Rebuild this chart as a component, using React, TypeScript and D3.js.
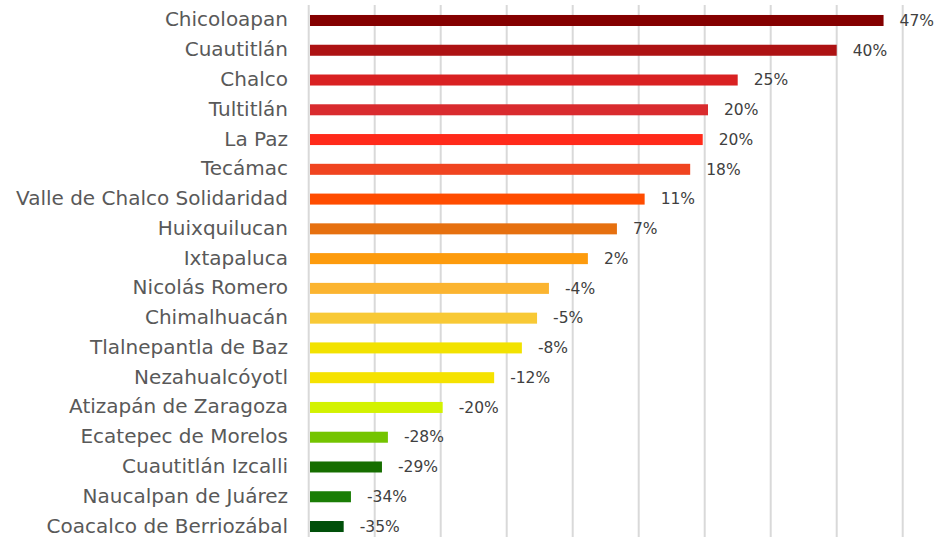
import { useEffect, useRef } from "react"
import * as d3 from "d3"

const municipios = [
  "Chicoloapan",
  "Cuautitlán",
  "Chalco",
  "Tultitlán",
  "La Paz",
  "Tecámac",
  "Valle de Chalco Solidaridad",
  "Huixquilucan",
  "Ixtapaluca",
  "Nicolás Romero",
  "Chimalhuacán",
  "Tlalnepantla de Baz",
  "Nezahualcóyotl",
  "Atizapán de Zaragoza",
  "Ecatepec de Morelos",
  "Cuautitlán Izcalli",
  "Naucalpan de Juárez",
  "Coacalco de Berriozábal",
]

const variacion = [
  47.1, 40.0, 25.0, 20.5, 19.7, 17.8, 10.9, 6.7, 2.3,
  -3.6, -5.4, -7.7, -11.9, -19.7, -28.0, -28.9, -33.6, -34.7,
]

const etiquetas = [
  "47%", "40%", "25%", "20%", "20%", "18%", "11%", "7%", "2%",
  "-4%", "-5%", "-8%", "-12%", "-20%", "-28%", "-29%", "-34%", "-35%",
]

const colores = [
  "#840000", "#ad1213", "#d92122", "#d92b2e", "#ff2a1a", "#f04420",
  "#ff4c00", "#e6700f", "#fd9b0d", "#fbb430", "#f8c935", "#f2e200",
  "#f5e200", "#d3f200", "#74c400", "#166e00", "#1a7d05", "#004f0a",
]

const gridTicks = [-40, -30, -20, -10, 0, 10, 20, 30, 40, 50]

export default function App() {
  const svgRef = useRef<SVGSVGElement>(null)

  useEffect(() => {
    const svg = d3.select(svgRef.current)
    svg.selectAll("*").remove()

    const height = 537

    const x = d3.scaleLinear().domain([-40, 50]).range([308.7, 902.7])
    const y = d3.scaleBand<string>()
      .domain(municipios)
      .range([5.6, 541.4])
      .paddingInner(0.63)
      .paddingOuter(0.315)

    // gridlines
    svg.append("g")
      .selectAll("line")
      .data(gridTicks)
      .join("line")
      .attr("x1", d => x(d))
      .attr("x2", d => x(d))
      .attr("y1", 5)
      .attr("y2", height)
      .attr("stroke", "#d9d9d9")
      .attr("stroke-width", 2)

    const rows = municipios.map((m, i) => ({
      name: m, value: variacion[i], label: etiquetas[i], color: colores[i],
    }))

    svg.append("g")
      .selectAll("rect")
      .data(rows)
      .join("rect")
      .attr("x", x(-40) + 1.3)
      .attr("y", d => y(d.name)!)
      .attr("width", d => x(d.value) - x(-40) - 1.3)
      .attr("height", y.bandwidth())
      .attr("fill", d => d.color)

    // category labels
    svg.append("g")
      .selectAll("text")
      .data(rows)
      .join("text")
      .attr("x", 288)
      .attr("y", d => y(d.name)! + y.bandwidth() / 2)
      .attr("dy", "0.3em")
      .attr("text-anchor", "end")
      .attr("font-family", "DejaVu Sans")
      .attr("font-size", 20)
      .attr("fill", "#595959")
      .text(d => d.name)

    // value labels
    svg.append("g")
      .selectAll("text")
      .data(rows)
      .join("text")
      .attr("x", d => x(d.value) + 16)
      .attr("y", d => y(d.name)! + y.bandwidth() / 2)
      .attr("dy", "0.34em")
      .attr("font-family", "DejaVu Sans")
      .attr("font-size", 15.5)
      .attr("fill", "#404040")
      .text(d => d.label)
  }, [])

  return (
    <svg
      ref={svgRef}
      width={936}
      height={537}
      style={{ position: "absolute", left: 0, top: 0, background: "#fff" }}
    />
  )
}
